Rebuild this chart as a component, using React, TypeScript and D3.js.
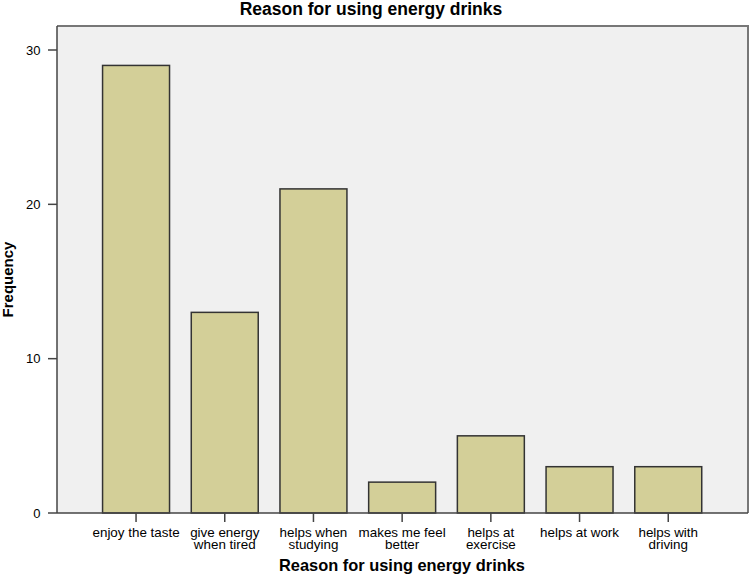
import React from "react";
import * as d3 from "d3";

const categories = [
  ["enjoy the taste"],
  ["give energy", "when tired"],
  ["helps when", "studying"],
  ["makes me feel", "better"],
  ["helps at", "exercise"],
  ["helps at work"],
  ["helps with", "driving"],
];
const frequencies = [29, 13, 21, 2, 5, 3, 3];
const yTicks = [0, 10, 20, 30];
const title = "Reason for using energy drinks";
const xTitle = "Reason for using energy drinks";
const yTitle = "Frequency";

export default function App() {
  const W = 751, H = 578;
  const plotL = 57, plotR = 748, plotT = 26, plotB = 513;
  const keys = categories.map((c) => c.join(" "));
  const x = d3.scaleBand<string>().domain(keys).range([91.7, 712.6]).paddingInner(0.245).paddingOuter(0.1225);
  const y = d3.scaleLinear().domain([0, 30]).range([plotB, 50]);
  const font = "'Liberation Sans', Arial, sans-serif";
  return (
    <svg width={W} height={H} style={{ position: "absolute", left: 0, top: 0, background: "#fff" }}>
      <rect x={plotL} y={plotT} width={plotR - plotL} height={plotB - plotT} fill="#f0f0f0" />
      <path d={`M${plotL},${plotT}H${plotR}V${plotB}`} fill="none" stroke="#777" strokeWidth={2} />
      {frequencies.map((v, i) => (
        <rect key={i} x={x(keys[i])!} y={y(v)} width={x.bandwidth()} height={plotB - y(v)}
          fill="#d3cf98" stroke="#333" strokeWidth={1.5} />
      ))}
      <line x1={plotL} x2={plotL} y1={plotT} y2={plotB} stroke="#444" strokeWidth={1.5} />
      <line x1={plotL} x2={plotR} y1={plotB} y2={plotB} stroke="#444" strokeWidth={1.5} />
      {yTicks.map((t) => (
        <g key={t}>
          <line x1={48} x2={plotL} y1={y(t)} y2={y(t)} stroke="#444" strokeWidth={1.5} />
          <text x={40.5} y={y(t) + 4.5} textAnchor="end" fontFamily={font} fontSize={13} fill="#000">{t}</text>
        </g>
      ))}
      {categories.map((lines, i) => {
        const cx = x(keys[i])! + x.bandwidth() / 2;
        return (
          <g key={i}>
            <line x1={cx} x2={cx} y1={plotB} y2={plotB + 9} stroke="#444" strokeWidth={1.5} />
            {lines.map((l, j) => (
              <text key={j} x={cx} y={537 + j * 12} textAnchor="middle" fontFamily={font} fontSize={13.4} fill="#000">{l}</text>
            ))}
          </g>
        );
      })}
      <text x={371} y={14.5} textAnchor="middle" fontFamily={font} fontSize={17.5} fontWeight="bold">{title}</text>
      <text x={402} y={571} textAnchor="middle" fontFamily={font} fontSize={16.4} fontWeight="bold">{xTitle}</text>
      <text transform={`translate(13,${(plotT + plotB) / 2 + 10}) rotate(-90)`} textAnchor="middle" fontFamily={font} fontSize={15} fontWeight="bold">{yTitle}</text>
    </svg>
  );
}
